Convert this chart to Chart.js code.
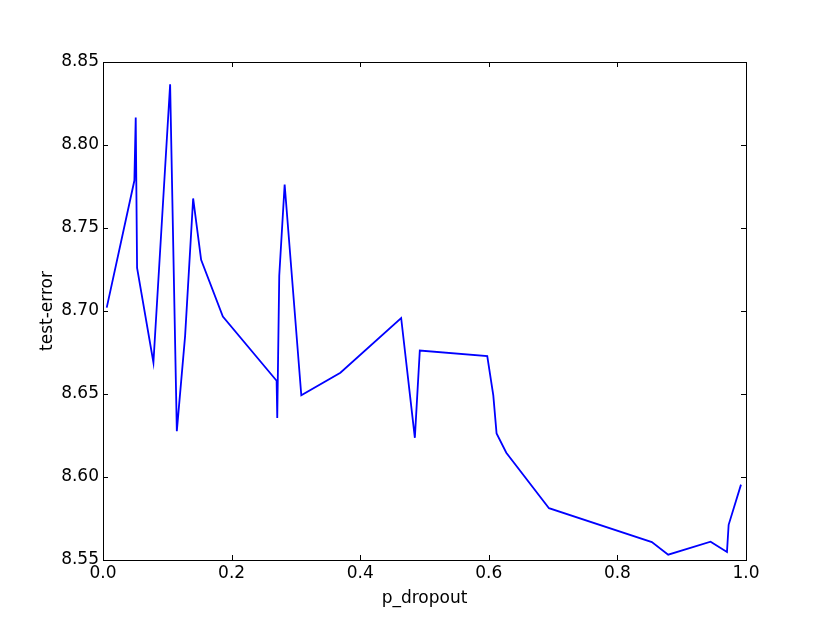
<!DOCTYPE html>
<html><head><meta charset="utf-8">
<script src="https://cdn.jsdelivr.net/npm/chart.js@4"></script>
<style>html,body{margin:0;padding:0;background:#fff}#wrap{width:830px;height:623px}</style>
</head><body><div id="wrap"><canvas id="c" width="830" height="623"></canvas></div>
<script>
const pDropout = [0.0058, 0.0488, 0.0509, 0.0530, 0.0784, 0.1044, 0.1148, 0.1277, 0.1402, 0.1526, 0.1864, 0.2700, 0.2710, 0.2741, 0.2825, 0.3084, 0.3692, 0.4637, 0.4850, 0.4927, 0.5976, 0.6070, 0.6121, 0.6272, 0.6936, 0.8536, 0.8790, 0.9449, 0.9704, 0.9730, 0.9922];
const testError = [8.702, 8.7786, 8.8166, 8.726, 8.669, 8.8366, 8.6276, 8.685, 8.7678, 8.7308, 8.6966, 8.658, 8.6356, 8.7212, 8.7762, 8.6492, 8.6628, 8.6958, 8.6236, 8.6762, 8.6728, 8.6492, 8.6262, 8.6146, 8.5812, 8.5608, 8.5532, 8.561, 8.5548, 8.5712, 8.5954];
const xTickLabels = ["0.0", "0.2", "0.4", "0.6", "0.8", "1.0"];
const yTickLabels = ["8.55", "8.60", "8.65", "8.70", "8.75", "8.80", "8.85"];
const xTitle = "p_dropout";
const yTitle = "test-error";

const points = pDropout.map((x, i) => ({x: x, y: testError[i]}));
const FONT = {family: "'DejaVu Sans', sans-serif", size: 17};

const framePlugin = {
  id: 'frame',
  afterDraw(chart) {
    const {ctx, chartArea: a, scales} = chart;
    ctx.save();
    ctx.strokeStyle = '#000';
    ctx.lineWidth = 1;
    ctx.strokeRect(Math.round(a.left) + 0.5, Math.round(a.top) + 0.5, Math.round(a.right - a.left), Math.round(a.bottom - a.top));
    const L = 5;
    ctx.beginPath();
    scales.x.ticks.forEach(t => {
      const px = Math.round(scales.x.getPixelForValue(t.value)) + 0.5;
      ctx.moveTo(px, a.bottom); ctx.lineTo(px, a.bottom - L);
      ctx.moveTo(px, a.top); ctx.lineTo(px, a.top + L);
    });
    scales.y.ticks.forEach(t => {
      const py = Math.round(scales.y.getPixelForValue(t.value)) + 0.5;
      ctx.moveTo(a.left, py); ctx.lineTo(a.left + L, py);
      ctx.moveTo(a.right, py); ctx.lineTo(a.right - L, py);
    });
    ctx.stroke();
    ctx.restore();
  }
};

new Chart(document.getElementById('c'), {
  type: 'scatter',
  data: {
    datasets: [{
      data: points,
      showLine: true,
      borderColor: '#0000ff',
      borderWidth: 1.8,
      pointRadius: 0,
      fill: false,
      tension: 0
    }]
  },
  options: {
    responsive: false,
    animation: false,
    devicePixelRatio: 1,
    layout: {padding: {top: 62, right: 84, left: 0, bottom: 0}},
    plugins: {legend: {display: false}, tooltip: {enabled: false}},
    scales: {
      x: {
        type: 'linear', min: 0, max: 1,
        grid: {display: false, drawTicks: false},
        border: {display: false},
        afterBuildTicks: s => { s.ticks = xTickLabels.map(v => ({value: parseFloat(v)})); },
        ticks: {color: '#000', font: FONT, padding: 3, maxRotation: 0,
          callback: (v) => xTickLabels.find(l => Math.abs(parseFloat(l) - v) < 1e-9) || ''},
        title: {display: true, text: xTitle, color: '#000', font: FONT, padding: {top: 0, bottom: 14}},
        afterFit: s => { s.height = 63; }
      },
      y: {
        type: 'linear', min: 8.55, max: 8.85,
        grid: {display: false, drawTicks: false},
        border: {display: false},
        afterBuildTicks: s => { s.ticks = yTickLabels.map(v => ({value: parseFloat(v)})); },
        ticks: {color: '#000', font: FONT, padding: 4,
          callback: (v) => yTickLabels.find(l => Math.abs(parseFloat(l) - v) < 1e-9) || ''},
        title: {display: true, text: yTitle, color: '#000', font: FONT, padding: {top: 37, bottom: 0}},
        afterFit: s => { s.width = 103; }
      }
    }
  },
  plugins: [framePlugin]
});
</script>
</body></html>
